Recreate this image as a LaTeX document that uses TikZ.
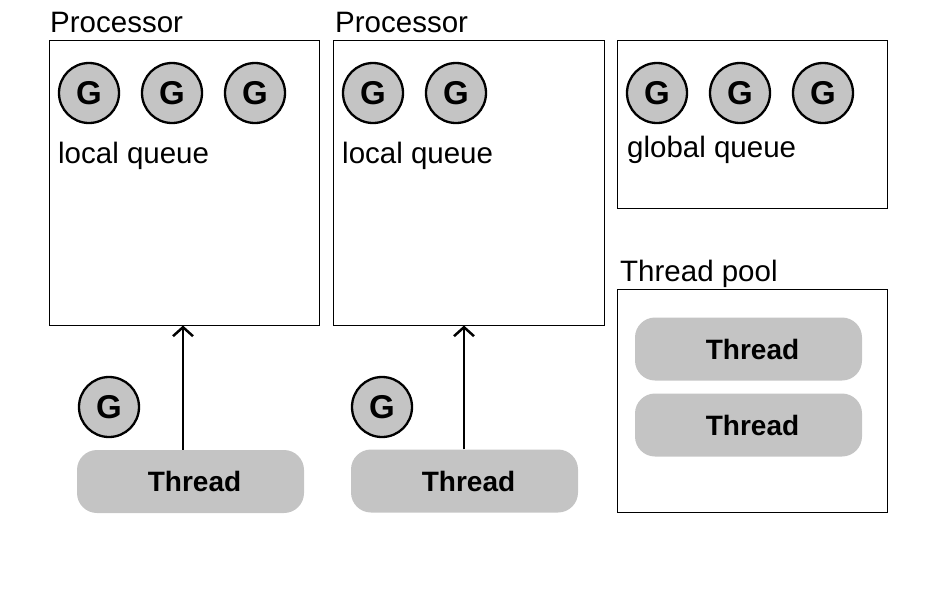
\documentclass[tikz,border=0pt]{standalone}
\usepackage{fontspec}
\setmainfont{Liberation Sans}
\usetikzlibrary{arrows.meta}
\tikzset{>={Straight Barb[length=9pt,width=20pt]}}
\definecolor{gfill}{HTML}{C4C4C4}
\tikzset{
  box/.style={draw, line width=1pt, inner sep=0pt},
  gnode/.style={circle, draw, line width=2.3pt, fill=gfill, minimum size=60pt, inner sep=0pt,
    font=\fontsize{33}{36}\selectfont\bfseries},
  thr/.style={rounded corners=20pt, fill=gfill, minimum width=227pt, minimum height=63pt, inner sep=0pt,
    font=\fontsize{28}{32}\selectfont\bfseries, execute at begin node=\hspace*{8pt}},
  lbl/.style={anchor=base west, inner sep=0pt, font=\fontsize{29.5}{34}\selectfont}
}

\begin{document}
\begin{tikzpicture}[x=1pt,y=-1pt]
            \useasboundingbox (0,0) rectangle (929,592);

            % processors and global queue
            \node[box, minimum width=270pt, minimum height=285pt] (proc1) at (184,182.5) {};
            \node[box, minimum width=271pt, minimum height=285pt] (proc2) at (468.5,182.5) {};
            \node[box, minimum width=270pt, minimum height=168pt] (glob) at (752,124) {};
            \node[box, minimum width=270pt, minimum height=223pt] (pool) at (752,400.5) {};

            \node[lbl] (p1lbl) at (50,32) {Processor};
            \node[lbl] (p2lbl) at (335,32) {Processor};
            \node[lbl] (poollbl) at (620,281) {Thread pool};

            \node[gnode] (g11) at (89,93) {G};
            \node[gnode] (g12) at (172,93) {G};
            \node[gnode] (g13) at (255,93) {G};
            \node[lbl] (lq1) at (58,163) {local queue};

            \node[gnode] (g21) at (373,93) {G};
            \node[gnode] (g22) at (456,93) {G};
            \node[lbl] (lq2) at (342,163) {local queue};

            \node[gnode] (g31) at (657,93) {G};
            \node[gnode] (g32) at (740,93) {G};
            \node[gnode] (g33) at (823,93) {G};
            \node[lbl] (gq) at (627,157) {global queue};

            % threads
            \node[thr] (pt1) at (748.5,349) {Thread};
            \node[thr] (pt2) at (748.5,425) {Thread};

            \node[gnode] (g4) at (109,407) {G};
            \node[thr] (t1) at (190.5,481.5) {Thread};
            \node[gnode] (g5) at (382,407) {G};
            \node[thr] (t2) at (464.5,481) {Thread};

            \coordinate (a1) at (183,0);
            \coordinate (a2) at (464,0);
            \draw[->, line width=2.5pt] (t1.north -| a1) -- (proc1.south -| a1);
            \draw[->, line width=2.5pt] (t2.north -| a2) -- (proc2.south -| a2);
\end{tikzpicture}
\end{document}
